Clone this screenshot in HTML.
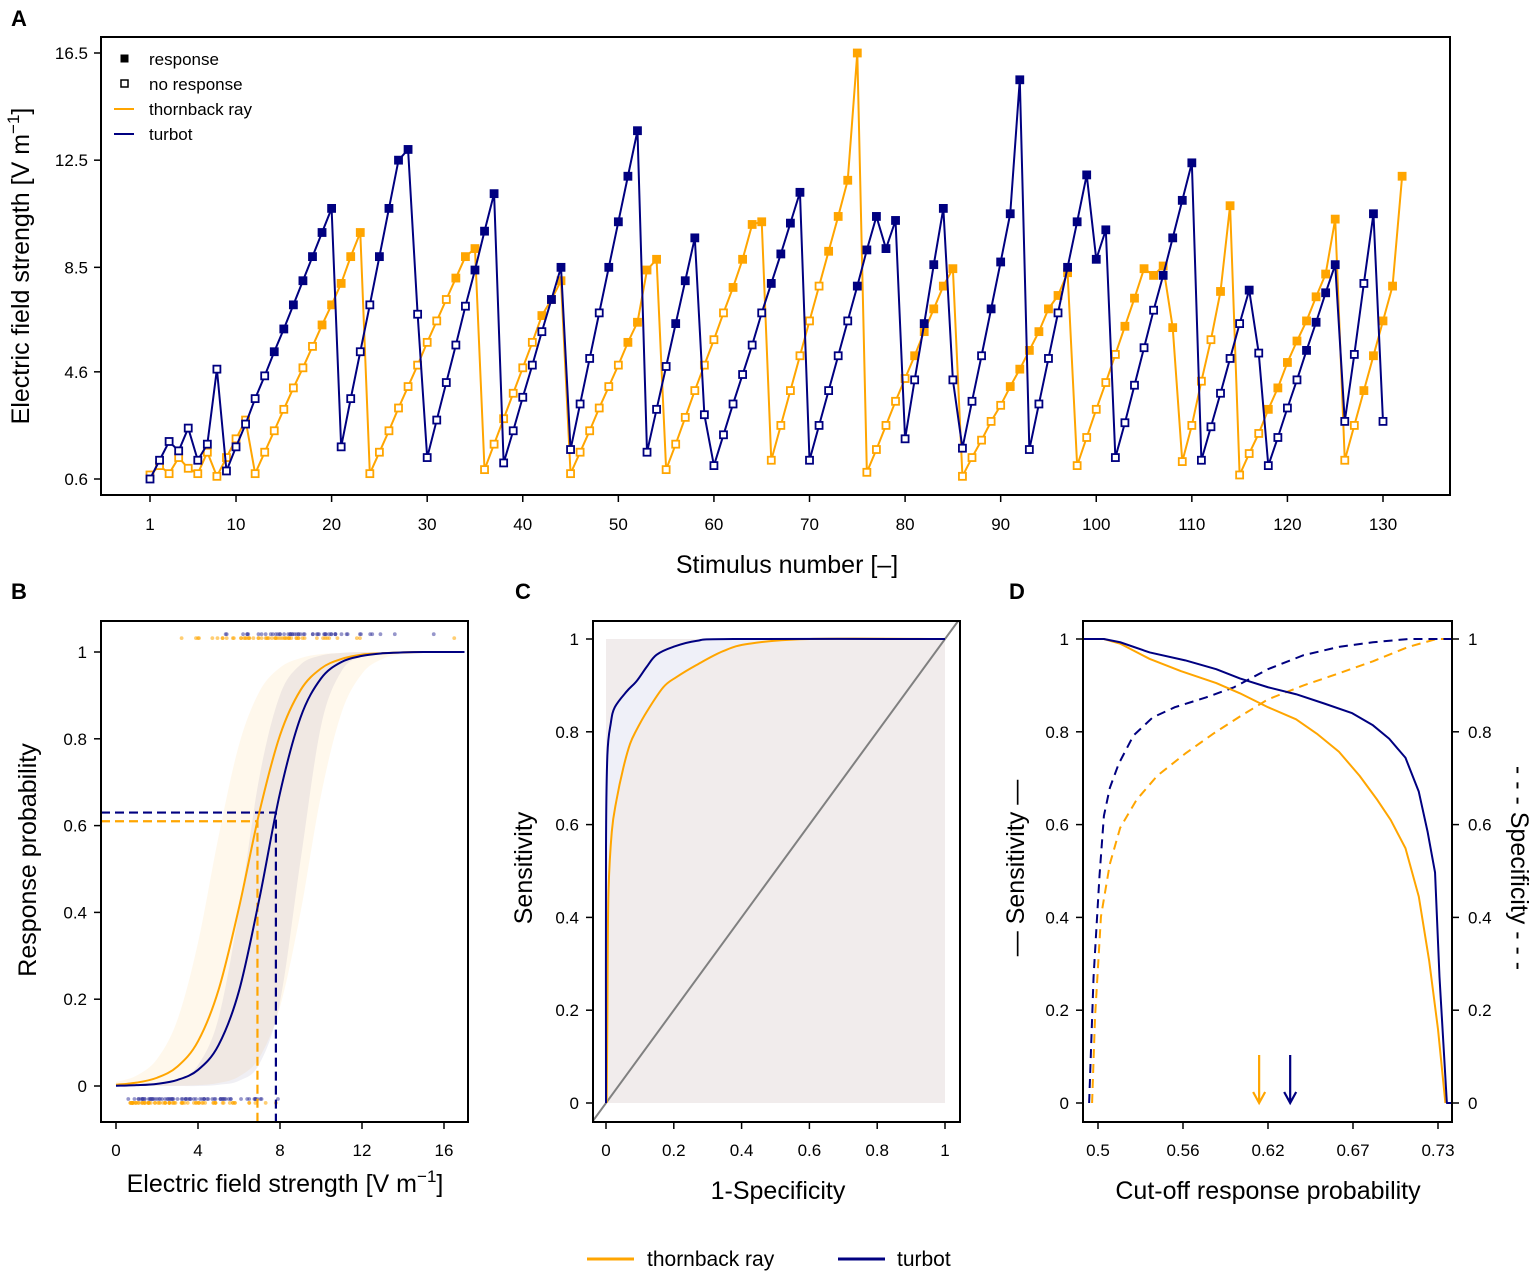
<!DOCTYPE html>
<html><head><meta charset="utf-8">
<style>
html,body{margin:0;padding:0;background:#fff;}
svg{display:block;font-family:"Liberation Sans",Arial,sans-serif;}
</style></head>
<body>
<svg id="fig" width="1535" height="1273" viewBox="0 0 1535 1273" xmlns="http://www.w3.org/2000/svg">
<text x="11" y="26" font-size="22" font-weight="bold">A</text>
<text x="11" y="599" font-size="22" font-weight="bold">B</text>
<text x="515" y="599" font-size="22" font-weight="bold">C</text>
<text x="1009" y="599" font-size="22" font-weight="bold">D</text>
<g id="gA"></g>
<g id="gB"></g>
<g id="gC"></g>
<g id="gD"></g>
<g>
<line x1="587" y1="1259" x2="634" y2="1259" stroke="#FFA500" stroke-width="3"/>
<text x="647" y="1266" font-size="21">thornback ray</text>
<line x1="838" y1="1259" x2="885" y2="1259" stroke="#000080" stroke-width="3"/>
<text x="897" y="1266" font-size="21">turbot</text>
</g>
</svg>
<script>
// ---------- Panel A data ----------
const turbotVals=[0.6,1.3,2.0,1.65,2.5,1.3,1.9,4.7,0.9,1.8,
2.65,3.6,4.45,5.35,6.2,7.1,8.0,8.9,9.8,10.7,
1.8,3.6,5.35,7.1,8.9,10.7,12.5,12.9,6.75,1.4,
2.8,4.2,5.6,7.05,8.4,9.85,11.25,1.2,2.4,3.65,
4.85,6.1,7.3,8.5,1.7,3.4,5.1,6.8,8.5,10.2,
11.9,13.6,1.6,3.2,4.8,6.4,8.0,9.6,3.0,1.1,
2.25,3.4,4.5,5.6,6.8,7.9,9.0,10.15,11.3,1.3,
2.6,3.9,5.2,6.5,7.8,9.15,10.4,9.2,10.25,2.1,
4.3,6.4,8.6,10.7,4.3,1.75,3.5,5.2,6.95,8.7,
10.5,15.5,1.7,3.4,5.1,6.8,8.5,10.2,11.95,8.8,
9.9,1.4,2.7,4.1,5.5,6.9,8.2,9.6,11.0,12.4,
1.3,2.55,3.8,5.1,6.4,7.65,5.3,1.1,2.15,3.25,
4.3,5.4,6.45,7.55,8.6,2.75,5.25,7.9,10.5,2.75];
const turbotResp=[0,0,0,0,0,0,0,0,0,0, 0,0,0,1,1,1,1,1,1,1, 0,0,0,0,1,1,1,1,0,0,
0,0,0,0,1,1,1,0,0,0, 0,0,1,1,0,0,0,0,1,1, 1,1,0,0,0,1,1,1,0,0,
0,0,0,0,0,1,1,1,1,0, 0,0,0,0,1,1,1,1,1,0, 0,1,1,1,0,0,0,0,1,1,
1,1,0,0,0,0,1,1,1,1, 1,0,0,0,0,0,1,1,1,1, 0,0,0,0,0,1,0,0,0,0,
0,1,1,1,1,0,0,0,1,0];
const rayVals=[0.75,1.1,0.8,1.4,1.0,0.8,1.6,0.7,1.4,2.1,
2.8,0.8,1.6,2.4,3.2,4.0,4.75,5.55,6.35,7.1,
7.9,8.9,9.8,0.8,1.6,2.4,3.25,4.05,4.85,5.7,
6.5,7.3,8.1,8.9,9.2,0.95,1.9,2.85,3.8,4.75,
5.7,6.7,7.3,8.0,0.8,1.6,2.4,3.25,4.05,4.85,
5.7,6.45,8.4,8.8,0.95,1.9,2.9,3.9,4.85,5.8,
6.8,7.75,8.8,10.1,10.2,1.3,2.6,3.9,5.2,6.5,
7.8,9.1,10.4,11.75,16.5,0.85,1.7,2.6,3.5,4.35,
5.2,6.1,6.95,7.8,8.45,0.7,1.4,2.05,2.75,3.35,
4.05,4.7,5.4,6.1,6.95,7.45,8.3,1.1,2.15,3.2,
4.2,5.25,6.3,7.35,8.45,8.2,8.55,6.25,1.25,2.6,
4.25,5.8,7.6,10.8,0.75,1.55,2.3,3.2,4.0,4.95,
5.75,6.5,7.4,8.25,10.3,1.3,2.6,3.9,5.2,6.5,
7.8,11.9];
const rayResp=[0,0,0,0,0,0,0,0,0,0, 0,0,0,0,0,0,0,0,1,1, 1,1,1,0,0,0,0,0,0,0,
0,0,1,1,1,0,0,0,0,0, 0,1,1,1,0,0,0,0,0,0, 1,1,1,1,0,0,0,0,0,0,
0,1,1,1,1,0,0,0,0,0, 0,1,1,1,1,0,0,0,0,0, 1,1,1,1,1,0,0,0,0,0,
1,1,1,1,1,1,1,0,0,0, 0,0,1,1,1,1,1,1,0,0, 0,0,1,1,0,0,0,1,1,1,
1,1,1,1,1,0,0,1,1,1, 1,1];
const aXTicks=[1,10,20,30,40,50,60,70,80,90,100,110,120,130];
const aYTicks=[0.6,4.6,8.5,12.5,16.5];

// ---------- Panel B data ----------
const bGridX=[0,1,2,3,4,5,6,7,8,9,10,11,12,13,14,15,16,17];
const rayProb=[0.003,0.0077,0.019,0.045,0.103,0.221,0.411,0.632,0.808,0.912,0.962,0.984,0.994,0.997,0.999,1,1,1];
const turbotProb=[0.0007,0.0019,0.005,0.014,0.037,0.094,0.219,0.433,0.675,0.849,0.939,0.977,0.991,0.997,0.999,1,1,1];
const rayBandHi=[0.009,0.024,0.062,0.153,0.33,0.574,0.786,0.909,0.964,0.986,0.995,0.998,1,1,1,1,1,1];
const rayBandLo=[0,0,0,0.0005,0.002,0.007,0.022,0.066,0.182,0.4,0.67,0.86,0.95,0.984,0.995,0.999,1,1];
const turbotBandHi=[0.0003,0.001,0.0037,0.0135,0.048,0.156,0.403,0.713,0.901,0.971,0.992,0.998,1,1,1,1,1,1];
const turbotBandLo=[0,0,0,0,0,0.0027,0.012,0.051,0.194,0.519,0.829,0.956,0.99,0.998,1,1,1,1];
const bThreshX=[6.9,7.8]; // ray, turbot
const bThreshP=[0.61,0.63];
const bXTicks=[0,4,8,12,16];
const bYTicks=[0,0.2,0.4,0.6,0.8,1];

// ---------- Panel C data ----------
const rocTurbotFpr=[0,0,0.004,0.014,0.026,0.061,0.09,0.12,0.149,0.198,0.267,0.375,1];
const rocTurbotTpr=[0,0.549,0.749,0.818,0.853,0.887,0.909,0.94,0.966,0.983,0.996,1,1];
const rocRayFpr=[0.002,0.004,0.007,0.017,0.031,0.051,0.071,0.09,0.12,0.169,0.208,0.267,0.346,0.424,0.601,1];
const rocRayTpr=[0,0.185,0.445,0.584,0.653,0.722,0.774,0.804,0.843,0.896,0.918,0.944,0.974,0.99,1,1];
const cTicks=[0,0.2,0.4,0.6,0.8,1];

// ---------- Panel D data ----------
const dTurbotSensX=[0.49,0.504,0.515,0.535,0.559,0.58,0.596,0.615,0.634,0.653,0.672,0.686,0.697,0.708,0.717,0.723,0.728,0.731,0.736,0.74];
const dTurbotSensY=[1,1,0.993,0.971,0.954,0.935,0.915,0.896,0.881,0.861,0.84,0.814,0.785,0.744,0.671,0.584,0.497,0.272,0,0];
const dRaySensX=[0.49,0.504,0.515,0.535,0.556,0.58,0.596,0.615,0.634,0.648,0.663,0.677,0.689,0.698,0.708,0.717,0.724,0.73,0.735];
const dRaySensY=[1,1,0.99,0.957,0.931,0.905,0.883,0.853,0.827,0.796,0.757,0.705,0.653,0.61,0.549,0.445,0.307,0.159,0];
const dTurbotSpecX=[0.494,0.497,0.501,0.504,0.508,0.514,0.524,0.537,0.552,0.573,0.592,0.615,0.639,0.663,0.686,0.71,0.74];
const dTurbotSpecY=[0,0.272,0.489,0.619,0.679,0.731,0.792,0.831,0.853,0.874,0.896,0.935,0.965,0.983,0.993,1,1];
const dRaySpecX=[0.496,0.498,0.502,0.508,0.515,0.526,0.54,0.559,0.578,0.597,0.615,0.639,0.663,0.686,0.71,0.729,0.74];
const dRaySpecY=[0,0.185,0.402,0.515,0.593,0.653,0.705,0.753,0.796,0.835,0.87,0.9,0.926,0.952,0.983,1,1];
const dArrowX=[0.609,0.63]; // ray, turbot
const dXTicks=[0.5,0.5575,0.615,0.6725,0.73];
const dXLabels=["0.5","0.56","0.62","0.67","0.73"];
const dYTicks=[0,0.2,0.4,0.6,0.8,1];

// ---------- helpers ----------
const NS="http://www.w3.org/2000/svg";
const ORANGE="#FFA500", NAVY="#000080";
function mk(tag,attrs,parent,text){
  const e=document.createElementNS(NS,tag);
  for(const k in attrs) e.setAttribute(k,attrs[k]);
  if(text!==undefined) e.textContent=text;
  parent.appendChild(e); return e;
}
function lin(d0,d1,r0,r1){return v=>r0+(v-d0)*(r1-r0)/(d1-d0);}
function smoothPath(pts){
  let d="M"+pts[0][0].toFixed(2)+","+pts[0][1].toFixed(2);
  for(let i=0;i<pts.length-1;i++){
    const p0=pts[Math.max(0,i-1)],p1=pts[i],p2=pts[i+1],p3=pts[Math.min(pts.length-1,i+2)];
    const c1=[p1[0]+(p2[0]-p0[0])/6,p1[1]+(p2[1]-p0[1])/6];
    const c2=[p2[0]-(p3[0]-p1[0])/6,p2[1]-(p3[1]-p1[1])/6];
    d+=" C"+c1[0].toFixed(2)+","+c1[1].toFixed(2)+" "+c2[0].toFixed(2)+","+c2[1].toFixed(2)+" "+p2[0].toFixed(2)+","+p2[1].toFixed(2);
  }
  return d;
}
function polyPath(pts){return "M"+pts.map(p=>p[0].toFixed(2)+","+p[1].toFixed(2)).join(" L");}

// ================= Panel A =================
(function(){
  const g=document.getElementById('gA');
  const L=101,R=1450,T=37,B=495;
  const X=lin(1,130,150,1383), Y=lin(0.6,16.5,479,53);
  function series(vals,resp,color,name){
    const gs=mk('g',{},g);
    
    
    const pts=vals.map((v,i)=>[X(i+1),Y(v)]);
    const ln=mk('path',{d:polyPath(pts),fill:'none',stroke:color,'stroke-width':2},gs);
    
    
    vals.forEach((v,i)=>{
      const r=mk('rect',{x:X(i+1)-3.5,y:Y(v)-3.5,width:7,height:7,fill:resp[i]?color:'#fff',stroke:color,'stroke-width':1.8},gs);
      
      
    });
  }
  series(rayVals,rayResp,ORANGE,'thornback-ray');
  series(turbotVals,turbotResp,NAVY,'turbot');
  const box=mk('rect',{x:L,y:T,width:R-L,height:B-T,fill:'none',stroke:'#000','stroke-width':2},g);
  
  
  aXTicks.forEach(t=>{
    const tl=mk('line',{x1:X(t),x2:X(t),y1:B,y2:B+7,stroke:'#000','stroke-width':1.5},g);
    
    
    const tx=mk('text',{x:X(t),y:B+35,'font-size':17,'text-anchor':'middle'},g,String(t));
    
    
  });
  aYTicks.forEach(t=>{
    const tl=mk('line',{x1:L-7,x2:L,y1:Y(t),y2:Y(t),stroke:'#000','stroke-width':1.5},g);
    
    
    const tx=mk('text',{x:L-13,y:Y(t)+6,'font-size':17,'text-anchor':'end'},g,t.toFixed(1));
    
    
  });
  const xt=mk('text',{x:787,y:573,'font-size':25,'text-anchor':'middle'},g,'Stimulus number [–]');
  
  
  const yt=mk('text',{transform:'translate(29,266) rotate(-90)','font-size':25,'text-anchor':'middle'},g);
  
  
  yt.innerHTML='Electric field strength [V m<tspan dy="-10" font-size="17">−1</tspan><tspan dy="10">]</tspan>';
  const lg=mk('g',{},g);
  
  
  const items=[['response','f'],['no response','o'],['thornback ray','or'],['turbot','nv']];
  items.forEach((it,i)=>{
    const y=59+i*25;
    let m;
    if(it[1]==='f') m=mk('rect',{x:120.5,y:y-4.5,width:8,height:8,fill:'#000'},lg);
    else if(it[1]==='o') m=mk('rect',{x:121,y:y-4,width:7,height:7,fill:'#fff',stroke:'#000','stroke-width':1.5},lg);
    else m=mk('line',{x1:114,x2:134,y1:y,y2:y,stroke:it[1]==='or'?ORANGE:NAVY,'stroke-width':2},lg);
    
    
    const t=mk('text',{x:149,y:y+6,'font-size':17},lg,it[0]);
    
    
  });
})();

// ================= Panel B =================
(function(){
  const g=document.getElementById('gB');
  const L=101,R=468,T=621,B=1122;
  const X=lin(0,16,116,444), Y=lin(0,1,1086,652);
  mk('defs',{},g).innerHTML='<clipPath id="clipB"><rect x="'+(L+1)+'" y="'+(T+1)+'" width="'+(R-L-2)+'" height="'+(B-T-2)+'"/></clipPath>';
  const inner=mk('g',{'clip-path':'url(#clipB)'},g);
  function band(hi,lo,fill,name){
    const top=bGridX.map((x,i)=>[X(x),Y(hi[i])]);
    const bot=bGridX.map((x,i)=>[X(x),Y(lo[i])]).reverse();
    const p=smoothPath(top)+" L"+bot[0][0]+","+bot[0][1]+smoothPath(bot).replace(/^M[^C]*/," ")+" Z";
    const e=mk('path',{d:p,fill:fill,stroke:'none'},inner);
    
    
  }
  band(rayBandHi,rayBandLo,'rgba(255,200,110,0.13)','thornback-ci-band');
  band(turbotBandHi,turbotBandLo,'rgba(110,100,150,0.10)','turbot-ci-band');
  function rug(vals,resp,color,pTop,pBot,name){
    vals.forEach((v,i)=>{
      const c=mk('circle',{cx:X(v),cy:Y(resp[i]?pTop:pBot),r:1.9,fill:color,'fill-opacity':0.55},inner);
      
      
    });
  }
  rug(rayVals,rayResp,ORANGE,1.032,-0.039,'thornback');
  rug(turbotVals,turbotResp,'#4040a0',1.041,-0.030,'turbot');
  [[ORANGE,0],[NAVY,1]].forEach(([c,i])=>{
    const d=mk('path',{d:'M'+L+','+Y(bThreshP[i])+' L'+X(bThreshX[i])+','+Y(bThreshP[i])+' L'+X(bThreshX[i])+','+B,fill:'none',stroke:c,'stroke-width':2.2,'stroke-dasharray':'9,5'},inner);
    
    
  });
  const cr=mk('path',{d:smoothPath(bGridX.map((x,i)=>[X(x),Y(rayProb[i])])),fill:'none',stroke:ORANGE,'stroke-width':2},inner);
  
  
  const ct=mk('path',{d:smoothPath(bGridX.map((x,i)=>[X(x),Y(turbotProb[i])])),fill:'none',stroke:NAVY,'stroke-width':2},inner);
  
  
  const box=mk('rect',{x:L,y:T,width:R-L,height:B-T,fill:'none',stroke:'#000','stroke-width':2},g);
  
  
  bXTicks.forEach(t=>{
    const tl=mk('line',{x1:X(t),x2:X(t),y1:B,y2:B+7,stroke:'#000','stroke-width':1.5},g);
    
    
    const tx=mk('text',{x:X(t),y:B+34,'font-size':17,'text-anchor':'middle'},g,String(t));
    
    
  });
  bYTicks.forEach(t=>{
    const tl=mk('line',{x1:L-7,x2:L,y1:Y(t),y2:Y(t),stroke:'#000','stroke-width':1.5},g);
    
    
    const tx=mk('text',{x:L-14,y:Y(t)+6,'font-size':17,'text-anchor':'end'},g,String(t));
    
    
  });
  const xt=mk('text',{x:285,y:1192,'font-size':25,'text-anchor':'middle'},g);
  
  
  xt.innerHTML='Electric field strength [V m<tspan dy="-10" font-size="17">−1</tspan><tspan dy="10">]</tspan>';
  const yt=mk('text',{transform:'translate(36,860) rotate(-90)','font-size':25,'text-anchor':'middle'},g,'Response probability');
  
  
})();

// ================= Panel C =================
(function(){
  const g=document.getElementById('gC');
  const L=593,R=960,T=621,B=1122;
  const X=lin(0,1,606,945), Y=lin(0,1,1103,639);
  mk('defs',{},g).innerHTML='<clipPath id="clipC"><rect x="'+(L+1)+'" y="'+(T+1)+'" width="'+(R-L-2)+'" height="'+(B-T-2)+'"/></clipPath>';
  const inner=mk('g',{'clip-path':'url(#clipC)'},g);
  const area=mk('rect',{x:X(0),y:Y(1),width:X(1)-X(0),height:Y(0)-Y(1),fill:'#f1ecec'},inner);
  
  
  const tp=rocTurbotFpr.map((x,i)=>[X(x),Y(rocTurbotTpr[i])]);
  const rp=rocRayFpr.map((x,i)=>[X(x),Y(rocRayTpr[i])]);
  const between=mk('path',{d:polyPath(tp)+" L"+rp.slice().reverse().map(p=>p[0].toFixed(2)+","+p[1].toFixed(2)).join(" L")+" Z",fill:'#eff0f8'},inner);
  
  
  const diag=mk('line',{x1:X(-0.04),y1:Y(-0.04),x2:X(1.05),y2:Y(1.05),stroke:'#808080','stroke-width':2},inner);
  
  
  const lr=mk('path',{d:smoothPath(rp),fill:'none',stroke:ORANGE,'stroke-width':2},inner);
  
  
  const lt=mk('path',{d:smoothPath(tp),fill:'none',stroke:NAVY,'stroke-width':2},inner);
  
  
  const box=mk('rect',{x:L,y:T,width:R-L,height:B-T,fill:'none',stroke:'#000','stroke-width':2},g);
  
  
  cTicks.forEach(t=>{
    const tl=mk('line',{x1:X(t),x2:X(t),y1:B,y2:B+7,stroke:'#000','stroke-width':1.5},g);
    
    
    const tx=mk('text',{x:X(t),y:B+34,'font-size':17,'text-anchor':'middle'},g,String(t));
    
    
    const yl=mk('line',{x1:L-7,x2:L,y1:Y(t),y2:Y(t),stroke:'#000','stroke-width':1.5},g);
    
    
    const ytx=mk('text',{x:L-14,y:Y(t)+6,'font-size':17,'text-anchor':'end'},g,String(t));
    
    
  });
  const xt=mk('text',{x:778,y:1199,'font-size':25,'text-anchor':'middle'},g,'1-Specificity');
  
  
  const yt=mk('text',{transform:'translate(532,868) rotate(-90)','font-size':25,'text-anchor':'middle'},g,'Sensitivity');
  
  
})();

// ================= Panel D =================
(function(){
  const g=document.getElementById('gD');
  const L=1083,R=1452,T=621,B=1122;
  const X=lin(0.5,0.73,1098,1438), Y=lin(0,1,1103,639);
  mk('defs',{},g).innerHTML='<clipPath id="clipD"><rect x="'+(L+1)+'" y="'+(T+1)+'" width="'+(R-L-2)+'" height="'+(B-T-2)+'"/></clipPath>';
  const inner=mk('g',{'clip-path':'url(#clipD)'},g);
  function curve(xs,ys,color,dash,name){
    const attrs={d:polyPath(xs.map((x,i)=>[X(x),Y(ys[i])])),fill:'none',stroke:color,'stroke-width':2,'stroke-linejoin':'round'};
    if(dash) attrs['stroke-dasharray']='9,6';
    const e=mk('path',attrs,inner);
    
    
  }
  curve(dRaySpecX,dRaySpecY,ORANGE,true,'thornback-specificity-curve');
  curve(dTurbotSpecX,dTurbotSpecY,NAVY,true,'turbot-specificity-curve');
  curve(dRaySensX,dRaySensY,ORANGE,false,'thornback-sensitivity-curve');
  curve(dTurbotSensX,dTurbotSensY,NAVY,false,'turbot-sensitivity-curve');
  [[ORANGE,0],[NAVY,1]].forEach(([c,i])=>{
    const x=X(dArrowX[i]);
    const a=mk('path',{d:'M'+x+',1055 L'+x+',1103 M'+(x-6)+',1092 L'+x+',1103 L'+(x+6)+',1092',fill:'none',stroke:c,'stroke-width':2.2},g);
    
    
  });
  const box=mk('rect',{x:L,y:T,width:R-L,height:B-T,fill:'none',stroke:'#000','stroke-width':2},g);
  
  
  dXTicks.forEach((t,i)=>{
    const tl=mk('line',{x1:X(t),x2:X(t),y1:B,y2:B+7,stroke:'#000','stroke-width':1.5},g);
    
    
    const tx=mk('text',{x:X(t),y:B+34,'font-size':17,'text-anchor':'middle'},g,dXLabels[i]);
    
    
  });
  dYTicks.forEach(t=>{
    const tl=mk('line',{x1:L-7,x2:L,y1:Y(t),y2:Y(t),stroke:'#000','stroke-width':1.5},g);
    
    
    const tx=mk('text',{x:L-14,y:Y(t)+6,'font-size':17,'text-anchor':'end'},g,String(t));
    
    
    const tr=mk('line',{x1:R,x2:R+7,y1:Y(t),y2:Y(t),stroke:'#000','stroke-width':1.5},g);
    
    
    const txr=mk('text',{x:R+16,y:Y(t)+6,'font-size':17,'text-anchor':'start'},g,String(t));
    
    
  });
  const xt=mk('text',{x:1268,y:1199,'font-size':25,'text-anchor':'middle'},g,'Cut-off response probability');
  
  
  const yt=mk('text',{transform:'translate(1024,868) rotate(-90)','font-size':25,'text-anchor':'middle'},g,'— Sensitivity —');
  
  
  const yr=mk('text',{transform:'translate(1511,868) rotate(90)','font-size':25,'text-anchor':'middle'},g,'- - -  Specificity  - - -');
  
  
})();
</script>
</body></html>
